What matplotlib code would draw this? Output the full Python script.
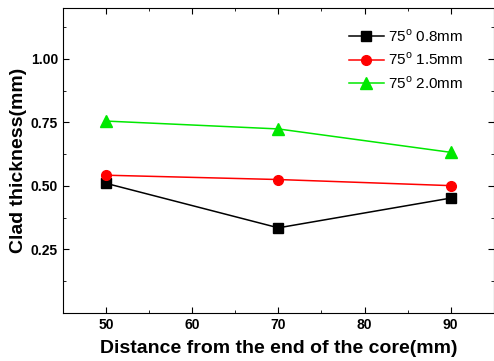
import matplotlib
matplotlib.use("Agg")
import matplotlib.pyplot as plt
from matplotlib.ticker import MultipleLocator

plt.rcParams['font.family'] = ['Liberation Sans', 'DejaVu Sans']

x = [50, 70, 90]
s08 = [0.51, 0.335, 0.452]
s15 = [0.542, 0.525, 0.501]
s20 = [0.755, 0.724, 0.632]
labels = ["75$^{\\mathregular{o}}$ 0.8mm", "75$^{\\mathregular{o}}$ 1.5mm", "75$^{\\mathregular{o}}$ 2.0mm"]

fig = plt.figure(figsize=(4.94, 3.61), dpi=100)
ax = fig.add_axes([0.1275, 0.133, 0.872, 0.845])

ax.plot(x, s08, color='black', marker='s', ms=6.5, lw=1.1, label=labels[0])
ax.plot(x, s15, color='red', marker='o', ms=7, lw=1.1, label=labels[1])
ax.plot(x, s20, color='#00e800', marker='^', ms=8, lw=1.1, label=labels[2])

ax.set_xlim(45, 95)
ax.set_ylim(0.0, 1.2)
ax.set_xticks([50, 60, 70, 80, 90])
ax.set_yticks([0.25, 0.50, 0.75, 1.00])
ax.set_yticklabels(['0.25', '0.50', '0.75', '1.00'])
ax.xaxis.set_minor_locator(MultipleLocator(5))
ax.yaxis.set_minor_locator(MultipleLocator(0.125))
ax.tick_params(which='both', direction='in', top=True, right=True, labelsize=10)
ax.tick_params(which='major', length=4)
ax.tick_params(which='minor', length=2.5)
for lab in ax.get_xticklabels() + ax.get_yticklabels():
    lab.set_fontweight('bold')

ax.set_xlabel('Distance from the end of the core(mm)', fontsize=14, fontweight='bold', labelpad=6)
ax.set_ylabel('Clad thickness(mm)', fontsize=14, fontweight='bold', labelpad=3)

ax.legend(loc='upper right', frameon=False, fontsize=11, handlelength=2.3,
          bbox_to_anchor=(0.962, 0.98), labelspacing=0.45, handletextpad=0.3)

fig.savefig('out.png', dpi=100)
